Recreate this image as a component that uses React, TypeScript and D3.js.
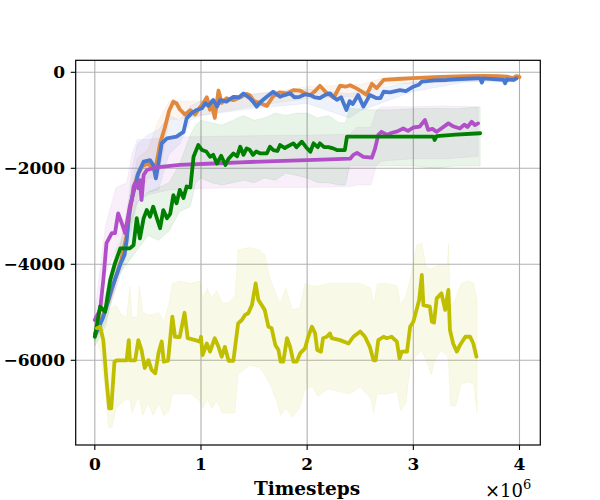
import * as d3 from "d3";

// timesteps in millions, episode return
const xTicks = [0, 1, 2, 3, 4];
const yTicks = [0, -2000, -4000, -6000];

const orangeMean: [number, number][] = [
  [0, -5450], [0.05, -5200], [0.1, -4950], [0.15, -4600], [0.2, -4250], [0.25, -3900], [0.3, -3400],
  [0.33, -2900], [0.36, -2500], [0.4, -2150], [0.45, -1950], [0.5, -1900], [0.55, -2000], [0.58, -1900],
  [0.615, -1480], [0.66, -1150], [0.7, -800], [0.74, -610], [0.77, -650], [0.8, -770], [0.85, -880],
  [0.9, -790], [0.945, -880], [0.99, -730], [1.02, -650], [1.055, -520], [1.085, -780], [1.1, -660],
  [1.13, -950], [1.165, -380], [1.195, -640], [1.24, -540], [1.305, -580], [1.37, -520], [1.43, -450],
  [1.46, -480], [1.5, -600], [1.555, -640], [1.62, -700], [1.68, -500], [1.74, -420], [1.81, -440],
  [1.87, -370], [1.93, -380], [1.98, -440], [2.03, -475], [2.08, -380], [2.12, -280], [2.18, -420],
  [2.25, -530], [2.31, -280], [2.36, -300], [2.405, -270], [2.46, -330], [2.5, -380], [2.56, -470],
  [2.61, -240], [2.655, -330], [2.72, -160], [2.85, -140], [3.0, -120], [3.2, -100], [3.345, -90],
  [3.5, -80], [3.66, -75], [3.8, -80], [3.88, -90], [3.94, -125], [3.97, -80], [4.0, -100],
];

const blueMean: [number, number][] = [
  [0, -5500], [0.04, -5300], [0.08, -5100], [0.12, -4800], [0.16, -4500], [0.2, -4250], [0.24, -4000],
  [0.28, -3800], [0.3, -3500], [0.32, -3000], [0.34, -2700], [0.365, -2500], [0.41, -2100], [0.46, -1860],
  [0.52, -1830], [0.55, -1930], [0.575, -2210], [0.6, -1900], [0.63, -1480], [0.68, -1375], [0.77, -1340],
  [0.835, -1240], [0.865, -960], [0.91, -855], [0.96, -785], [1.01, -750], [1.04, -645], [1.07, -700],
  [1.115, -575], [1.15, -715], [1.18, -580], [1.24, -610], [1.305, -510], [1.36, -520], [1.4, -440],
  [1.46, -540], [1.49, -610], [1.525, -715], [1.56, -620], [1.62, -510], [1.68, -405], [1.745, -510],
  [1.78, -480], [1.84, -440], [1.88, -520], [1.93, -510], [1.98, -460], [2.03, -475], [2.07, -520],
  [2.12, -540], [2.17, -470], [2.215, -440], [2.25, -520], [2.28, -575], [2.32, -520], [2.37, -785],
  [2.4, -600], [2.43, -660], [2.48, -475], [2.53, -715], [2.59, -475], [2.655, -540], [2.69, -540],
  [2.72, -405], [2.78, -420], [2.875, -370], [2.93, -390], [3.0, -300], [3.05, -260], [3.08, -195],
  [3.2, -170], [3.315, -160], [3.45, -140], [3.6, -125], [3.63, -125], [3.645, -215], [3.66, -125],
  [3.85, -160], [3.865, -230], [3.88, -150], [3.94, -160], [3.97, -130],
];

const greenMean: [number, number][] = [
  [0, -5510], [0.05, -4880], [0.097, -4990], [0.145, -4330], [0.19, -3980], [0.24, -3670], [0.33, -3670],
  [0.365, -3600], [0.395, -3040], [0.425, -3460], [0.46, -3040], [0.49, -2870], [0.52, -3010], [0.55, -2800],
  [0.58, -3010], [0.615, -3250], [0.645, -2870], [0.68, -3040], [0.71, -2950], [0.74, -2560], [0.77, -2730],
  [0.8, -2450], [0.835, -2620], [0.865, -2380], [0.9, -2400], [0.93, -1760], [0.975, -1515], [1.01, -1620],
  [1.05, -1650], [1.085, -1760], [1.115, -1720], [1.15, -1900], [1.19, -1740], [1.23, -1930], [1.26, -1800],
  [1.305, -1690], [1.34, -1750], [1.37, -1550], [1.4, -1720], [1.43, -1585], [1.46, -1620], [1.49, -1720],
  [1.52, -1650], [1.56, -1690], [1.62, -1690], [1.65, -1550], [1.68, -1620], [1.72, -1640], [1.745, -1515],
  [1.79, -1580], [1.81, -1550], [1.87, -1480], [1.9, -1560], [1.95, -1445], [1.99, -1560], [2.03, -1655],
  [2.06, -1480], [2.1, -1560], [2.12, -1480], [2.16, -1560], [2.2, -1560], [2.245, -1585], [2.28, -1620],
  [2.355, -1620], [2.375, -1340], [2.6, -1340], [2.8, -1340], [3.0, -1340], [3.19, -1340], [3.2, -1410],
  [3.22, -1330], [3.4, -1300], [3.63, -1270],
];

const purpleMean: [number, number][] = [
  [0, -5160], [0.05, -4950], [0.08, -4330], [0.11, -3560], [0.16, -3350], [0.19, -3350], [0.22, -2940],
  [0.255, -3150], [0.285, -3350], [0.33, -2800], [0.35, -2660], [0.365, -2380], [0.38, -2310], [0.41, -2415],
  [0.425, -2245], [0.44, -2660], [0.46, -2140], [0.49, -2035], [0.58, -1980], [0.8, -1930], [1.115, -1900],
  [1.37, -1875], [1.7, -1850], [2.0, -1830], [2.405, -1800], [2.435, -1720], [2.47, -1680], [2.53, -1760],
  [2.61, -1780], [2.64, -1585], [2.67, -1305], [2.7, -1240], [2.75, -1300], [2.8, -1260], [2.85, -1230],
  [2.905, -1170], [2.95, -1220], [3.0, -1150], [3.06, -1130], [3.11, -995], [3.14, -1200], [3.18, -1180],
  [3.22, -1240], [3.27, -1160], [3.33, -1065], [3.38, -1130], [3.44, -1170], [3.48, -1090], [3.51, -1140],
  [3.55, -1030], [3.58, -1100], [3.61, -1065],
];

const yellowMean: [number, number][] = [
  [0.02, -5330], [0.05, -5300], [0.08, -5580], [0.11, -6410], [0.135, -7000], [0.155, -7000], [0.185, -6030],
  [0.21, -6000], [0.3, -6000], [0.32, -5580], [0.33, -6000], [0.38, -6000], [0.41, -5580], [0.44, -5785],
  [0.47, -6160], [0.505, -6000], [0.535, -6200], [0.57, -6270], [0.6, -5850], [0.63, -5610], [0.65, -6030],
  [0.69, -6010], [0.73, -5090], [0.755, -5510], [0.8, -5515], [0.845, -5010], [0.875, -5540], [0.945, -5580],
  [0.99, -5610], [1.0, -5510], [1.015, -5890], [1.055, -5650], [1.085, -5820], [1.13, -5540], [1.165, -5720],
  [1.195, -5925], [1.225, -5720], [1.26, -6010], [1.305, -6010], [1.35, -5230], [1.385, -5160], [1.415, -5055],
  [1.445, -5020], [1.48, -4850], [1.515, -4400], [1.54, -4740], [1.6, -4950], [1.635, -5300], [1.665, -5330],
  [1.7, -5680], [1.73, -5785], [1.75, -6030], [1.775, -6030], [1.81, -5540], [1.84, -5720], [1.87, -6030],
  [1.9, -6030], [1.935, -5850], [1.98, -5750], [2.01, -5510], [2.045, -5300], [2.075, -5440], [2.095, -5785],
  [2.13, -5820], [2.15, -5540], [2.185, -5510], [2.215, -5440], [2.23, -5540], [2.31, -5580], [2.39, -5650],
  [2.435, -5510], [2.5, -5400], [2.545, -5510], [2.59, -5720], [2.625, -6000], [2.645, -6000], [2.67, -5580],
  [2.72, -5510], [2.75, -5540], [2.795, -5510], [2.845, -5610], [2.87, -5960], [2.89, -5820], [2.94, -5820],
  [2.97, -5300], [3.0, -5195], [3.03, -4950], [3.055, -4745], [3.08, -4220], [3.095, -4850], [3.155, -4880],
  [3.175, -5195], [3.195, -5215], [3.22, -4710], [3.265, -4605], [3.3, -4950], [3.33, -4535], [3.345, -5370],
  [3.375, -5650], [3.41, -5820], [3.44, -5680], [3.49, -5510], [3.535, -5510], [3.565, -5650], [3.595, -5925],
];

// [t, lower, upper]
const orangeBand: [number, number, number][] = [
  [0, -5600, -5300], [0.2, -4500, -4000], [0.4, -2600, -1800], [0.5, -2200, -1600], [0.6, -2200, -1000],
  [0.7, -1000, -600], [1.0, -900, -600], [1.5, -700, -450], [2.0, -550, -300], [2.5, -500, -250],
  [2.75, -250, -100], [4.0, -150, -60],
];

const blueBand: [number, number, number][] = [
  [0, -5600, -5400], [0.1, -5200, -4800], [0.2, -4500, -4000], [0.3, -3800, -3000], [0.35, -3200, -2000],
  [0.4, -2700, -1500], [0.5, -2500, -1300], [0.6, -2450, -1200], [0.7, -1700, -900], [0.8, -1500, -1000],
  [0.9, -1000, -700], [1.0, -900, -600], [1.5, -750, -450], [2.0, -650, -350], [2.4, -950, -450],
  [2.5, -800, -400], [3.0, -400, -200], [3.5, -200, -100], [3.97, -200, -90],
];

const greenBand: [number, number, number][] = [
  [0, -5700, -5200], [0.1, -5300, -4600], [0.2, -4300, -3700], [0.3, -4000, -3300], [0.4, -3700, -2700],
  [0.5, -3400, -2500], [0.6, -3500, -2400], [0.7, -3300, -2300], [0.8, -2900, -1900], [0.9, -2800, -1300],
  [0.95, -2300, -1100], [1.0, -2200, -1000], [1.1, -2300, -1050], [1.2, -2350, -1100], [1.3, -2300, -1000],
  [1.4, -2250, -900], [1.5, -2300, -1000], [1.6, -2200, -950], [1.7, -2250, -850], [1.8, -2100, -900],
  [1.9, -2150, -850], [2.0, -2200, -850], [2.1, -2300, -950], [2.2, -2300, -900], [2.3, -2350, -1050],
  [2.36, -2350, -1050], [2.4, -1950, -750], [2.6, -1950, -780], [2.8, -1950, -780], [3.0, -1950, -760],
  [3.2, -2000, -750], [3.4, -1950, -760], [3.63, -1950, -720],
];

const purpleBand: [number, number, number][] = [
  [0, -5300, -5000], [0.1, -4200, -3200], [0.2, -3700, -2400], [0.3, -3200, -2300], [0.35, -2900, -1700],
  [0.4, -2700, -1400], [0.5, -2550, -1400], [0.7, -2450, -1350], [1.0, -2420, -1340], [1.5, -2400, -1320],
  [2.0, -2400, -1310], [2.4, -2380, -1290], [2.47, -2350, -1150], [2.6, -2350, -1150], [2.65, -1950, -800],
  [2.7, -1850, -720], [3.0, -1800, -720], [3.3, -1800, -700], [3.61, -1750, -720],
];

const yellowBand: [number, number, number][] = [
  [0, -5500, -5200], [0.05, -5800, -5250], [0.1, -6700, -5300], [0.13, -7400, -5000], [0.16, -7400, -4900],
  [0.2, -7000, -4850], [0.25, -6900, -5050], [0.3, -6800, -5100], [0.33, -6800, -4450], [0.35, -7100, -5100],
  [0.4, -6800, -5100], [0.42, -6800, -4450], [0.45, -7150, -5000], [0.5, -6900, -5050], [0.55, -7150, -5050],
  [0.6, -6900, -5000], [0.65, -7150, -5200], [0.7, -7050, -4800], [0.73, -6700, -4400], [0.8, -6700, -4350],
  [0.9, -6700, -4400], [0.99, -6850, -4350], [1.02, -7000, -4700], [1.06, -6800, -4500], [1.1, -7000, -4700],
  [1.15, -6850, -4550], [1.2, -7100, -4800], [1.26, -7100, -4800], [1.32, -7100, -4650], [1.35, -6300, -3700],
  [1.45, -6100, -3650], [1.55, -6150, -3700], [1.6, -6300, -3800], [1.65, -6500, -4300], [1.72, -6900, -4700],
  [1.75, -7150, -4800], [1.8, -7000, -4500], [1.86, -7180, -4950], [1.93, -7000, -4900], [1.98, -6600, -4400],
  [2.05, -6550, -4450], [2.1, -6750, -4450], [2.2, -6600, -4400], [2.3, -6650, -4400], [2.4, -6700, -4400],
  [2.5, -6550, -4400], [2.6, -6800, -4500], [2.625, -7100, -4850], [2.66, -6700, -4400], [2.75, -6700, -4400],
  [2.85, -6650, -4450], [2.88, -7050, -4850], [2.93, -6900, -4650], [2.97, -6100, -4300], [3.03, -5900, -3600],
  [3.08, -5800, -3560], [3.12, -6000, -4050], [3.17, -6300, -4100], [3.2, -6000, -4050], [3.26, -5800, -4000],
  [3.32, -5900, -4050], [3.33, -6000, -3560], [3.35, -6950, -4880], [3.4, -6950, -4700], [3.45, -6500, -4400],
  [3.52, -6450, -4350], [3.57, -6500, -4400], [3.6, -7100, -4750],
];

const series = [
  { name: "orange", color: "#e0883e", mean: orangeMean, band: orangeBand },
  { name: "blue", color: "#4878d0", mean: blueMean, band: blueBand },
  { name: "purple", color: "#b04fc8", mean: purpleMean, band: purpleBand },
  { name: "green", color: "#008000", mean: greenMean, band: greenBand },
  { name: "yellow", color: "#bfbf00", mean: yellowMean, band: yellowBand },
];

const width = 600;
const height = 500;
const plot = { left: 75.7, right: 540.3, top: 60.3, bottom: 445 };
const font = "'DejaVu Serif', serif";

export default function App() {
  const x = d3.scaleLinear().domain([-0.18, 4.196]).range([plot.left, plot.right]);
  const y = d3.scaleLinear().domain([-7765, 250]).range([plot.bottom, plot.top]);

  const line = d3
    .line<[number, number]>()
    .x((d) => x(d[0]))
    .y((d) => y(d[1]));

  const area = d3
    .area<[number, number, number]>()
    .x((d) => x(d[0]))
    .y0((d) => y(d[1]))
    .y1((d) => y(d[2]));

  return (
    <svg
      width={width}
      height={height}
      style={{ position: "absolute", left: 0, top: 0, background: "#fff" }}
    >
      <defs>
        <clipPath id="plot-clip">
          <rect
            x={plot.left}
            y={plot.top}
            width={plot.right - plot.left}
            height={plot.bottom - plot.top}
          />
        </clipPath>
      </defs>

      {/* Grid */}
      {xTicks.map((t) => (
        <line key={"gx" + t} x1={x(t)} x2={x(t)} y1={plot.top} y2={plot.bottom} stroke="#b0b0b0" strokeWidth={1.1} />
      ))}
      {yTicks.map((t) => (
        <line key={"gy" + t} x1={plot.left} x2={plot.right} y1={y(t)} y2={y(t)} stroke="#b0b0b0" strokeWidth={1.1} />
      ))}

      <g clipPath="url(#plot-clip)">
        {series.map((s) => (
          <path key={"b" + s.name} d={area(s.band) || ""} fill={s.color} fillOpacity={0.09} stroke={s.color} strokeOpacity={0.07} />
        ))}
        {series.map((s) => (
          <path
            key={"l" + s.name}
            d={line(s.mean) || ""}
            fill="none"
            stroke={s.color}
            strokeWidth={3.8}
            strokeLinejoin="round"
            strokeLinecap="round"
          />
        ))}
      </g>

      {/* Frame */}
      <rect
        x={plot.left}
        y={plot.top}
        width={plot.right - plot.left}
        height={plot.bottom - plot.top}
        fill="none"
        stroke="#000"
        strokeWidth={1.2}
      />

      {/* X axis */}
      {xTicks.map((t) => (
        <g key={"xt" + t}>
          <line x1={x(t)} x2={x(t)} y1={plot.bottom} y2={plot.bottom + 5} stroke="#000" strokeWidth={1.1} />
          <text x={x(t)} y={470} textAnchor="middle" fontFamily={font} fontWeight="bold" fontSize={17}>
            {t}
          </text>
        </g>
      ))}

      {/* Y axis */}
      {yTicks.map((t) => (
        <g key={"yt" + t}>
          <line x1={plot.left - 5} x2={plot.left} y1={y(t)} y2={y(t)} stroke="#000" strokeWidth={1.1} />
          <text x={65} y={y(t) + 6} textAnchor="end" fontFamily={font} fontWeight="bold" fontSize={17}>
            {t < 0 ? "\u2212" + Math.abs(t) : t}
          </text>
        </g>
      ))}

      <text x={307} y={495} textAnchor="middle" fontFamily={font} fontWeight="bold" fontSize={18.5}>
        Timesteps
      </text>
      <text x={485} y={497} fontFamily={font} fontSize={18}>
        ×10
        <tspan dy={-8} fontSize={13}>6</tspan>
      </text>
    </svg>
  );
}
